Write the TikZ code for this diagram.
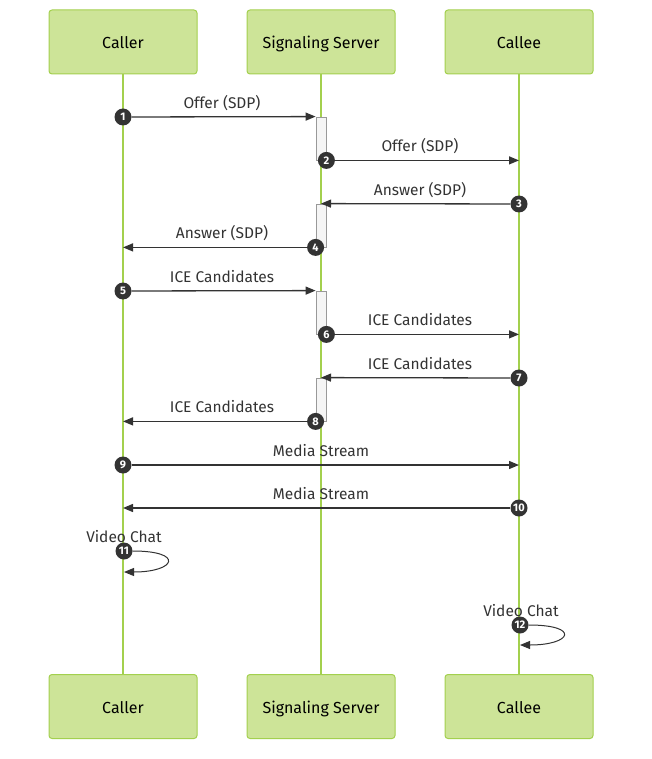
\documentclass[tikz,border=0pt]{standalone}
\usepackage{fontspec}
\setmainfont{Fira Sans}
\usepackage{xcolor}
\usetikzlibrary{arrows.meta, positioning}

\definecolor{actfill}{HTML}{CDE498}
\definecolor{actline}{HTML}{A3D04E}
\definecolor{dark}{HTML}{333333}

\begin{document}
\begin{tikzpicture}[x=1pt, y=-1pt,
    actor/.style={draw=actline, fill=actfill, line width=1pt, rounded corners=3pt,
        minimum width=148pt, minimum height=64pt, text height=13pt, text depth=0pt,
        font=\fontsize{16}{19}\selectfont},
    life/.style={actline, line width=1.5pt},
    act/.style={draw=gray!80, fill=gray!8, line width=0.8pt, minimum width=10pt,
        minimum height=43pt, inner sep=0pt},
    num/.style={circle, fill=dark, text=white, minimum size=17pt, inner sep=0pt,
        font=\fontsize{11}{13}\selectfont\bfseries},
    msg/.style={dark, line width=1.3pt, -{Triangle[length=10pt,width=8pt]}},
    lbl/.style={font=\fontsize{15.5}{18}\selectfont, text=dark}]
    \useasboundingbox (0,0) rectangle (651,759);

    % Draw actors and lifelines
    \foreach \name/\x/\txt in {caller/123/Caller, server/321/Signaling Server, callee/519/Callee} {
        \node[actor] (\name) at (\x,42) {\txt};
        \node[actor] (\name-b) at (\x,706.5) {\txt};
        \draw[life] (\name) -- (\name-b);
    }

    % Activation boxes on the server
    \node[act] (act1) at (321,138.5) {};
    \node[act] (act2) at (321,225.5) {};
    \node[act] (act3) at (321,312.5) {};
    \node[act] (act4) at (321,399.5) {};

    % Step numbers
    \node[num] (n1) at (123,117) {1};
    \node[num] (n2) at (act1.south east) {2};
    \node[num] (n3) at (519,204) {3};
    \node[num] (n4) at (act2.south west) {4};
    \node[num] (n5) at (123,291) {5};
    \node[num] (n6) at (act3.south east) {6};
    \node[num] (n7) at (519,378) {7};
    \node[num] (n8) at (act4.south west) {8};
    \node[num] (n9) at (123,465) {9};
    \node[num] (n10) at (519,508) {10};
    \node[num] (n11) at (124,551) {11};
    \node[num] (n12) at (520,625) {12};

    % Offer / answer
    \draw[msg] (n1) -- (act1.north west);
    \node[lbl] (l1) at (222,103) {Offer (SDP)};
    \draw[msg] (n2) -- (n2 -| callee);
    \node[lbl] (l2) at (420,146) {Offer (SDP)};
    \draw[msg] (n3) -- (act2.north);
    \node[lbl] (l3) at (420,190) {Answer (SDP)};
    \draw[msg] (n4) -- (n4 -| caller);
    \node[lbl] (l4) at (222,233) {Answer (SDP)};

    % ICE candidates
    \draw[msg] (n5) -- (act3.north west);
    \node[lbl] (l5) at (222,277) {ICE Candidates};
    \draw[msg] (n6) -- (n6 -| callee);
    \node[lbl] (l6) at (420,320) {ICE Candidates};
    \draw[msg] (n7) -- (act4.north);
    \node[lbl] (l7) at (420,364) {ICE Candidates};
    \draw[msg] (n8) -- (n8 -| caller);
    \node[lbl] (l8) at (222,407) {ICE Candidates};

    % Media
    \draw[msg] (n9) -- (n9 -| callee);
    \node[lbl] (l9) at (321,451) {Media Stream};
    \draw[msg] (n10) -- (n10 -| caller);
    \node[lbl] (l10) at (321,494) {Media Stream};

    % Self messages
    \node[lbl] (l11) at (124,537) {Video Chat};
    \draw[msg, line width=1pt] (n11.east) .. controls +(52,0) and +(52,0) .. ([yshift=-21pt]n11.center);
    \node[lbl] (l12) at (521,611) {Video Chat};
    \draw[msg, line width=1pt] (n12.east) .. controls +(52,0) and +(52,0) .. ([yshift=-20pt]n12.center);
\end{tikzpicture}
\end{document}
